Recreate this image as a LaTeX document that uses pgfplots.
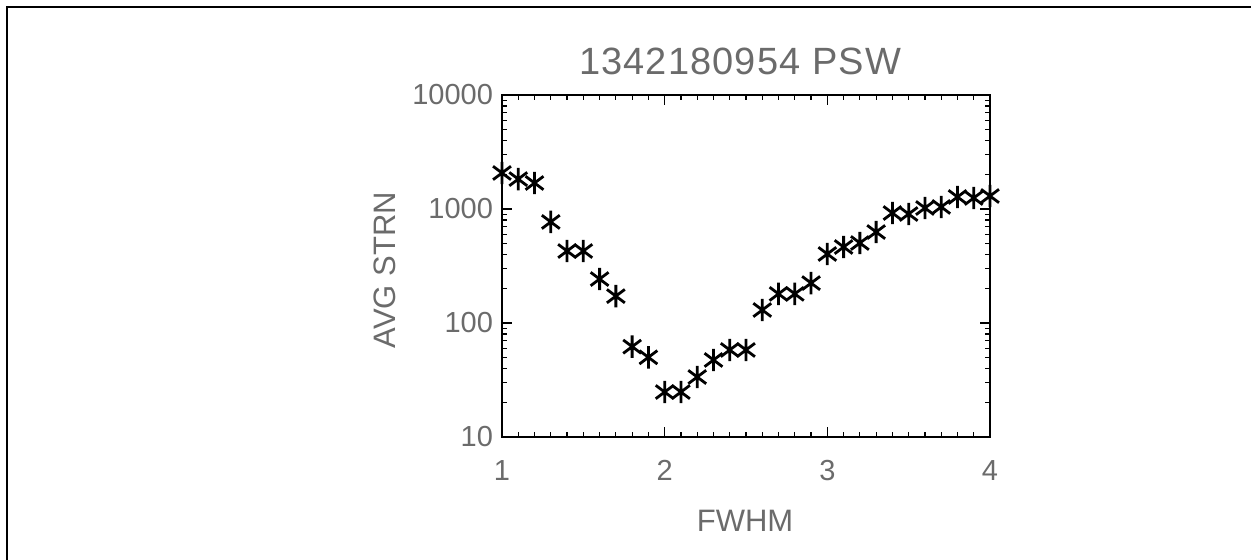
\documentclass[border=0pt]{standalone}
\usepackage{fontspec}
\setmainfont{Liberation Sans}
\usepackage{pgfplots}
\pgfplotsset{compat=1.18}
\definecolor{lab}{gray}{0.42}

% IDL-like asterisk: vertical stroke plus two crossing diagonals
\pgfdeclareplotmark{idlstar}{%
  \pgfpathmoveto{\pgfqpoint{0pt}{-\pgfplotmarksize}}%
  \pgfpathlineto{\pgfqpoint{0pt}{\pgfplotmarksize}}%
  \pgfpathmoveto{\pgfqpoint{-0.8\pgfplotmarksize}{-0.6\pgfplotmarksize}}%
  \pgfpathlineto{\pgfqpoint{0.8\pgfplotmarksize}{0.6\pgfplotmarksize}}%
  \pgfpathmoveto{\pgfqpoint{-0.8\pgfplotmarksize}{0.6\pgfplotmarksize}}%
  \pgfpathlineto{\pgfqpoint{0.8\pgfplotmarksize}{-0.6\pgfplotmarksize}}%
  \pgfusepathqstroke}

\begin{document}
\begin{tikzpicture}
\useasboundingbox (0,0) rectangle (625.5pt,280pt);
% outer frame (only top and left visible)
\draw[line width=1pt] (3.5pt,0pt) -- (3.5pt,276.5pt) -- (625.5pt,276.5pt);
\begin{axis}[
  at={(251pt,61.5pt)}, anchor=south west,
  scale only axis,
  width=244pt, height=171pt,
  ymode=log,
  xmin=1, xmax=4, ymin=10, ymax=10000,
  xtick={1,2,3,4},
  minor x tick num=9,
  ytick={10,100,1000,10000},
  yticklabels={10,100,1000,10000},
  log identify minor tick positions=true,
  tick align=inside,
  major tick length=5pt,
  minor tick length=2.5pt,
  tick style={black, line width=0.6pt},
  axis line style={line width=0.75pt},
  font=\fontsize{14.5}{16}\selectfont,
  /pgf/number format/assume math mode=true,
  ticklabel style={lab},
  yticklabel style={xshift=-1pt},
  xticklabel style={yshift=-8pt},
  title={\fontsize{19}{21}\selectfont\addfontfeature{LetterSpace=3}1342180954 PSW},
  title style={lab, at={(axis description cs:0.488,1.064)}, anchor=center},
  xlabel={\fontsize{15.5}{17}\selectfont FWHM},
  xlabel style={lab, at={(axis description cs:0.498,-0.246)}, anchor=center},
  ylabel={\fontsize{15.5}{17}\selectfont AVG STRN},
  ylabel style={lab, at={(axis description cs:-0.24,0.488)}, anchor=center, rotate=0},
]
\addplot[only marks, mark=idlstar, mark size=5.6pt, mark options={line width=1.4pt, black}]
coordinates {
(1.0,2070) (1.1,1830) (1.2,1690) (1.3,770) (1.4,428) (1.5,428)
(1.6,243) (1.7,172) (1.8,62) (1.9,50) (2.0,24.8) (2.1,24.8)
(2.2,33.6) (2.3,47.4) (2.4,58) (2.5,58) (2.6,130) (2.7,180)
(2.8,180) (2.9,224) (3.0,403) (3.1,464) (3.2,503) (3.3,628)
(3.4,922) (3.5,903) (3.6,1020) (3.7,1042) (3.8,1275) (3.9,1249)
(4.0,1300)
};
\end{axis}
\end{tikzpicture}
\end{document}
